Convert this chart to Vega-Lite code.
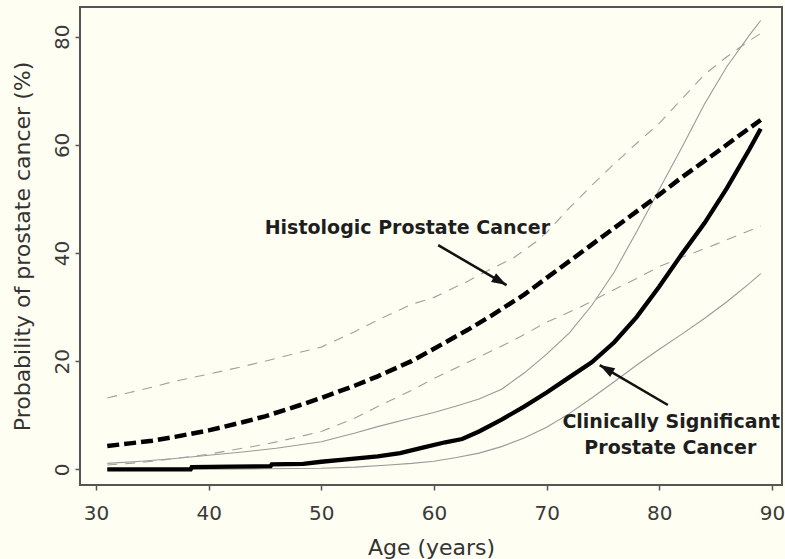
{
  "$schema": "https://vega.github.io/schema/vega-lite/v6.json",
  "width": 702,
  "height": 478,
  "autosize": {"type": "none"},
  "padding": {"left": 80, "top": 7, "right": 3, "bottom": 74},
  "background": "#fefef2",
  "config": {
    "view": {"stroke": "#555555", "strokeWidth": 2, "fill": "#fefef2"},
    "axis": {
      "grid": false,
      "domain": false,
      "tickColor": "#555555",
      "tickWidth": 1.5,
      "tickSize": 5,
      "labelFont": "DejaVu Sans",
      "labelFontSize": 20,
      "labelColor": "#3a3a3a",
      "labelFlush": false,
      "titleFont": "DejaVu Sans",
      "titleFontSize": 22,
      "titleFontWeight": "normal",
      "titleColor": "#333333"
    }
  },
  "datasets": {
    "curves": [
      {"series": "Histologic", "age": 31, "prob": 4.3},
      {"series": "Histologic", "age": 33, "prob": 4.8},
      {"series": "Histologic", "age": 35, "prob": 5.3},
      {"series": "Histologic", "age": 37, "prob": 6.0},
      {"series": "Histologic", "age": 40, "prob": 7.2},
      {"series": "Histologic", "age": 43, "prob": 8.7},
      {"series": "Histologic", "age": 45, "prob": 9.8},
      {"series": "Histologic", "age": 48, "prob": 11.8},
      {"series": "Histologic", "age": 50, "prob": 13.2},
      {"series": "Histologic", "age": 53, "prob": 15.5},
      {"series": "Histologic", "age": 55, "prob": 17.2},
      {"series": "Histologic", "age": 58, "prob": 20.0},
      {"series": "Histologic", "age": 60, "prob": 22.3},
      {"series": "Histologic", "age": 63, "prob": 25.8},
      {"series": "Histologic", "age": 65, "prob": 28.3},
      {"series": "Histologic", "age": 68, "prob": 32.3},
      {"series": "Histologic", "age": 70, "prob": 35.4},
      {"series": "Histologic", "age": 73, "prob": 40.0},
      {"series": "Histologic", "age": 75, "prob": 43.1},
      {"series": "Histologic", "age": 78, "prob": 47.7},
      {"series": "Histologic", "age": 80, "prob": 50.8},
      {"series": "Histologic", "age": 82, "prob": 54.0},
      {"series": "Histologic", "age": 85, "prob": 58.5},
      {"series": "Histologic", "age": 87, "prob": 61.6},
      {"series": "Histologic", "age": 89, "prob": 64.6},

      {"series": "Histologic upper", "age": 31, "prob": 13.2},
      {"series": "Histologic upper", "age": 33, "prob": 14.2},
      {"series": "Histologic upper", "age": 35, "prob": 15.2},
      {"series": "Histologic upper", "age": 37, "prob": 16.3},
      {"series": "Histologic upper", "age": 40, "prob": 17.6},
      {"series": "Histologic upper", "age": 43, "prob": 19.0},
      {"series": "Histologic upper", "age": 45, "prob": 20.0},
      {"series": "Histologic upper", "age": 48, "prob": 21.6},
      {"series": "Histologic upper", "age": 50, "prob": 22.6},
      {"series": "Histologic upper", "age": 53, "prob": 25.5},
      {"series": "Histologic upper", "age": 55, "prob": 27.6},
      {"series": "Histologic upper", "age": 58, "prob": 30.5},
      {"series": "Histologic upper", "age": 60, "prob": 31.8},
      {"series": "Histologic upper", "age": 63, "prob": 34.8},
      {"series": "Histologic upper", "age": 65, "prob": 37.0},
      {"series": "Histologic upper", "age": 67, "prob": 39.0},
      {"series": "Histologic upper", "age": 69, "prob": 42.0},
      {"series": "Histologic upper", "age": 70, "prob": 43.8},
      {"series": "Histologic upper", "age": 72, "prob": 48.3},
      {"series": "Histologic upper", "age": 74, "prob": 52.5},
      {"series": "Histologic upper", "age": 76, "prob": 56.5},
      {"series": "Histologic upper", "age": 78, "prob": 60.3},
      {"series": "Histologic upper", "age": 80, "prob": 64.0},
      {"series": "Histologic upper", "age": 82, "prob": 68.5},
      {"series": "Histologic upper", "age": 84, "prob": 73.0},
      {"series": "Histologic upper", "age": 86, "prob": 76.3},
      {"series": "Histologic upper", "age": 88, "prob": 79.3},
      {"series": "Histologic upper", "age": 89, "prob": 80.6},

      {"series": "Histologic lower", "age": 31, "prob": 0.8},
      {"series": "Histologic lower", "age": 33, "prob": 1.1},
      {"series": "Histologic lower", "age": 35, "prob": 1.5},
      {"series": "Histologic lower", "age": 37, "prob": 2.0},
      {"series": "Histologic lower", "age": 40, "prob": 2.8},
      {"series": "Histologic lower", "age": 43, "prob": 3.9},
      {"series": "Histologic lower", "age": 45, "prob": 4.6},
      {"series": "Histologic lower", "age": 48, "prob": 6.0},
      {"series": "Histologic lower", "age": 50, "prob": 7.0},
      {"series": "Histologic lower", "age": 53, "prob": 9.5},
      {"series": "Histologic lower", "age": 55, "prob": 11.6},
      {"series": "Histologic lower", "age": 58, "prob": 14.6},
      {"series": "Histologic lower", "age": 60, "prob": 16.8},
      {"series": "Histologic lower", "age": 63, "prob": 19.8},
      {"series": "Histologic lower", "age": 65, "prob": 21.8},
      {"series": "Histologic lower", "age": 67, "prob": 23.8},
      {"series": "Histologic lower", "age": 70, "prob": 27.2},
      {"series": "Histologic lower", "age": 73, "prob": 30.0},
      {"series": "Histologic lower", "age": 75, "prob": 32.2},
      {"series": "Histologic lower", "age": 78, "prob": 35.3},
      {"series": "Histologic lower", "age": 80, "prob": 37.5},
      {"series": "Histologic lower", "age": 82, "prob": 39.2},
      {"series": "Histologic lower", "age": 85, "prob": 41.6},
      {"series": "Histologic lower", "age": 87, "prob": 43.3},
      {"series": "Histologic lower", "age": 89, "prob": 45.0},

      {"series": "Clinical", "age": 31, "prob": 0.0},
      {"series": "Clinical", "age": 38.4, "prob": 0.0},
      {"series": "Clinical", "age": 38.5, "prob": 0.4},
      {"series": "Clinical", "age": 42, "prob": 0.5},
      {"series": "Clinical", "age": 45.5, "prob": 0.6},
      {"series": "Clinical", "age": 45.6, "prob": 0.9},
      {"series": "Clinical", "age": 48.4, "prob": 1.0},
      {"series": "Clinical", "age": 50, "prob": 1.4},
      {"series": "Clinical", "age": 52, "prob": 1.8},
      {"series": "Clinical", "age": 55, "prob": 2.4},
      {"series": "Clinical", "age": 57, "prob": 3.0},
      {"series": "Clinical", "age": 59, "prob": 4.0},
      {"series": "Clinical", "age": 61, "prob": 5.0},
      {"series": "Clinical", "age": 62.5, "prob": 5.6},
      {"series": "Clinical", "age": 64, "prob": 7.0},
      {"series": "Clinical", "age": 66, "prob": 9.2},
      {"series": "Clinical", "age": 68, "prob": 11.6},
      {"series": "Clinical", "age": 70, "prob": 14.2},
      {"series": "Clinical", "age": 72, "prob": 17.0},
      {"series": "Clinical", "age": 74, "prob": 19.8},
      {"series": "Clinical", "age": 76, "prob": 23.5},
      {"series": "Clinical", "age": 78, "prob": 28.2},
      {"series": "Clinical", "age": 80, "prob": 33.8},
      {"series": "Clinical", "age": 82, "prob": 39.8},
      {"series": "Clinical", "age": 84, "prob": 45.5},
      {"series": "Clinical", "age": 86, "prob": 52.0},
      {"series": "Clinical", "age": 88, "prob": 59.2},
      {"series": "Clinical", "age": 89, "prob": 63.0},

      {"series": "Clinical upper", "age": 31, "prob": 1.1},
      {"series": "Clinical upper", "age": 34, "prob": 1.5},
      {"series": "Clinical upper", "age": 37, "prob": 2.0},
      {"series": "Clinical upper", "age": 40, "prob": 2.6},
      {"series": "Clinical upper", "age": 43, "prob": 3.2},
      {"series": "Clinical upper", "age": 46, "prob": 3.9},
      {"series": "Clinical upper", "age": 50, "prob": 5.1},
      {"series": "Clinical upper", "age": 53, "prob": 6.7},
      {"series": "Clinical upper", "age": 55, "prob": 7.9},
      {"series": "Clinical upper", "age": 58, "prob": 9.5},
      {"series": "Clinical upper", "age": 60, "prob": 10.5},
      {"series": "Clinical upper", "age": 62, "prob": 11.7},
      {"series": "Clinical upper", "age": 64, "prob": 13.0},
      {"series": "Clinical upper", "age": 66, "prob": 14.8},
      {"series": "Clinical upper", "age": 68, "prob": 17.8},
      {"series": "Clinical upper", "age": 70, "prob": 21.3},
      {"series": "Clinical upper", "age": 72, "prob": 25.2},
      {"series": "Clinical upper", "age": 74, "prob": 30.3},
      {"series": "Clinical upper", "age": 76, "prob": 36.5},
      {"series": "Clinical upper", "age": 78, "prob": 44.0},
      {"series": "Clinical upper", "age": 80, "prob": 51.8},
      {"series": "Clinical upper", "age": 82, "prob": 59.5},
      {"series": "Clinical upper", "age": 84, "prob": 67.5},
      {"series": "Clinical upper", "age": 86, "prob": 74.5},
      {"series": "Clinical upper", "age": 88, "prob": 80.3},
      {"series": "Clinical upper", "age": 89, "prob": 83.0},

      {"series": "Clinical lower", "age": 31, "prob": 0.0},
      {"series": "Clinical lower", "age": 40, "prob": 0.0},
      {"series": "Clinical lower", "age": 45, "prob": 0.1},
      {"series": "Clinical lower", "age": 50, "prob": 0.2},
      {"series": "Clinical lower", "age": 53, "prob": 0.4},
      {"series": "Clinical lower", "age": 56, "prob": 0.8},
      {"series": "Clinical lower", "age": 58, "prob": 1.1},
      {"series": "Clinical lower", "age": 60, "prob": 1.5},
      {"series": "Clinical lower", "age": 62, "prob": 2.2},
      {"series": "Clinical lower", "age": 64, "prob": 3.0},
      {"series": "Clinical lower", "age": 66, "prob": 4.2},
      {"series": "Clinical lower", "age": 68, "prob": 5.8},
      {"series": "Clinical lower", "age": 70, "prob": 7.8},
      {"series": "Clinical lower", "age": 72, "prob": 10.3},
      {"series": "Clinical lower", "age": 74, "prob": 13.2},
      {"series": "Clinical lower", "age": 76, "prob": 16.2},
      {"series": "Clinical lower", "age": 78, "prob": 19.3},
      {"series": "Clinical lower", "age": 80, "prob": 22.2},
      {"series": "Clinical lower", "age": 82, "prob": 25.0},
      {"series": "Clinical lower", "age": 84, "prob": 27.9},
      {"series": "Clinical lower", "age": 86, "prob": 31.0},
      {"series": "Clinical lower", "age": 88, "prob": 34.4},
      {"series": "Clinical lower", "age": 89, "prob": 36.2}
    ],
    "labels": [
      {"text": "Histologic Prostate Cancer", "age": 57.64, "prob": 44.6},
      {"text": "Clinically Significant", "age": 81.06, "prob": 8.8},
      {"text": "Prostate Cancer", "age": 80.98, "prob": 3.9}
    ],
    "arrows": [
      {"which": "hist", "age": 60.37, "prob": 41.46, "age2": 66.44, "prob2": 34.07},
      {"which": "cs", "age": 80.76, "prob": 11.89, "age2": 74.71, "prob2": 19.28}
    ]
  },
  "layer": [
    {
      "data": {"name": "curves"},
      "transform": [{"filter": "datum.series === 'Clinical upper' || datum.series === 'Clinical lower'"}],
      "mark": {"type": "line", "color": "#9a9a9a", "strokeWidth": 1.1},
      "encoding": {
        "x": {"field": "age", "type": "quantitative", "scale": {"domain": [28.58, 90.89], "nice": false, "zero": false},
              "axis": {"values": [30, 40, 50, 60, 70, 80, 90], "title": "Age (years)", "labelPadding": 13, "titlePadding": 14}},
        "y": {"field": "prob", "type": "quantitative", "scale": {"domain": [-2.9, 85.5], "nice": false, "zero": false},
              "axis": {"values": [0, 20, 40, 60, 80], "labelAngle": -90, "labelPadding": 3, "title": "Probability of prostate cancer (%)", "titlePadding": 18}},
        "detail": {"field": "series"}
      }
    },
    {
      "data": {"name": "curves"},
      "transform": [{"filter": "datum.series === 'Histologic upper' || datum.series === 'Histologic lower'"}],
      "mark": {"type": "line", "color": "#a0a0a0", "strokeWidth": 1.1, "strokeDash": [10, 8]},
      "encoding": {
        "x": {"field": "age", "type": "quantitative"},
        "y": {"field": "prob", "type": "quantitative"},
        "detail": {"field": "series"}
      }
    },
    {
      "data": {"name": "curves"},
      "transform": [{"filter": "datum.series === 'Clinical'"}],
      "mark": {"type": "line", "color": "#000000", "strokeWidth": 4.3},
      "encoding": {
        "x": {"field": "age", "type": "quantitative"},
        "y": {"field": "prob", "type": "quantitative"}
      }
    },
    {
      "data": {"name": "curves"},
      "transform": [{"filter": "datum.series === 'Histologic'"}],
      "mark": {"type": "line", "color": "#000000", "strokeWidth": 4.5, "strokeDash": [12, 5]},
      "encoding": {
        "x": {"field": "age", "type": "quantitative"},
        "y": {"field": "prob", "type": "quantitative"}
      }
    },
    {
      "data": {"name": "arrows"},
      "mark": {"type": "rule", "color": "#111111", "strokeWidth": 2.5},
      "encoding": {
        "x": {"field": "age", "type": "quantitative"},
        "y": {"field": "prob", "type": "quantitative"},
        "x2": {"field": "age2"},
        "y2": {"field": "prob2"}
      }
    },
    {
      "data": {"name": "arrows"},
      "transform": [{"filter": "datum.which === 'hist'"}],
      "mark": {"type": "point", "shape": "M0,0L0.5,1.5L-0.5,1.5Z", "filled": true, "color": "#111111", "size": 400, "angle": 120, "opacity": 1},
      "encoding": {
        "x": {"field": "age2", "type": "quantitative"},
        "y": {"field": "prob2", "type": "quantitative"}
      }
    },
    {
      "data": {"name": "arrows"},
      "transform": [{"filter": "datum.which === 'cs'"}],
      "mark": {"type": "point", "shape": "M0,0L0.5,1.5L-0.5,1.5Z", "filled": true, "color": "#111111", "size": 400, "angle": 300, "opacity": 1},
      "encoding": {
        "x": {"field": "age2", "type": "quantitative"},
        "y": {"field": "prob2", "type": "quantitative"}
      }
    },
    {
      "data": {"name": "labels"},
      "mark": {"type": "text", "font": "DejaVu Sans", "fontWeight": "bold", "fontSize": 19, "color": "#1e1e1e", "align": "center", "baseline": "middle"},
      "encoding": {
        "x": {"field": "age", "type": "quantitative"},
        "y": {"field": "prob", "type": "quantitative"},
        "text": {"field": "text"}
      }
    }
  ]
}
